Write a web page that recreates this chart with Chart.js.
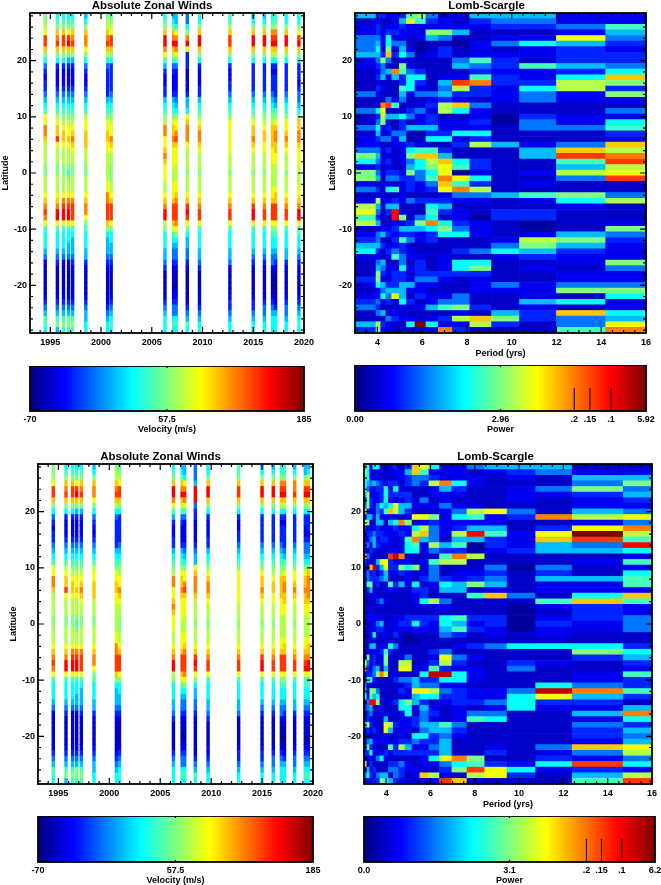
<!DOCTYPE html>
<html>
<head>
<meta charset="utf-8">
<title>Zonal winds and Lomb-Scargle</title>
<script src="https://cdn.jsdelivr.net/npm/chart.js@4/dist/chart.umd.min.js"></script>
<style>
html, body { margin: 0; padding: 0; background: #fff; overflow: hidden; }
body { position: relative; width: 661px; height: 885px; }
canvas { position: absolute; }
</style>
</head>
<body>
<script>
// colour levels, one character per cell (0-g), as a fraction of the colour bar
const levelFractions = [.03, .07, .11, .16, .24, .31, .38, .44, .5, .55, .61, .68, .75, .82, .88, .94, 1];

const latitudes = [28,27,26,25,24,23,22,21,20,19,18,17,16,15,14,13,12,11,10,9,8,7,6,5,4,3,2,1,0,
    -1,-2,-3,-4,-5,-6,-7,-8,-9,-10,-11,-12,-13,-14,-15,-16,-17,-18,-19,-20,-21,-22,-23,-24,-25,-26,-27,-28];

const latTicks = [-20, -10, 0, 10, 20];
const yearTicks = [1995, 2000, 2005, 2010, 2015, 2020];
const periodTicks = [4, 6, 8, 10, 12, 14, 16];

// upper panels
const yearsTop = [1994.5, 1995.7, 1996.3, 1996.8, 1997.2, 1998.5, 2000.65, 2001.0, 2006.3, 2007.15, 2007.4,
    2008.5, 2009.7, 2012.7, 2015.0, 2016.1, 2016.9, 2017.2, 2018.25, 2019.5];

// one string per observation date, latitude 28 down to -28
const windsTop = [
    '889addb864 3233456 7aa ccb999988 999abcdca7 6665421111 12345776',
    '678bcdb863 222345679a bbda99988 999abceea7 6665431111 12345785',
    '678bddb863 2223456789 abba99988 999acdeea7 6665421111 12345787',
    '678adeb853 2223456789 aaba99987 899acdeea7 6655421111 12345887',
    '678bcdb853 2223456789 abcba9988 999acddda7 6555432111 12345787',
    '568bcca864 322345679a abbb99988 999abcca87 6665532111 12345566',
    '899bcdb964 333335678a abbaa9999 9aaccdddb8 6555432110 11234566',
    '789addb863 3333456789 aacba9988 899abddda8 6655432111 12345676',
    '678beeca75 3223356789 ccaabcbaa a99abcee98 6665543111 11345666',
    '568bceb974 322235678a bbcbaaaa9 9aaabdddba 7654432110 12344676',
    '556aceca74 222234568a acdbaaa99 9aabcdddca 8654432110 12344676',
    '4468cea333 11223556ab ccca99998 999abdeda8 6554432111 11234576',
    '668beeb863 222335678a bccba9998 999abcdda7 6665543111 12234566',
    '778bddb863 223345678a aaaaa9998 999abcdda7 6665542111 12334566',
    '568beeb863 333345678a bbcba9998 999abdeea7 6665432111 12334566',
    '568beeb863 3333456789 abbaa9998 999abcdda7 6665432111 12344566',
    '678cdeb963 2333456789 bbbbaaa99 99aabddda8 7665442100 12345666',
    '778cdeb963 233334578a bccbbaa99 99abbddda8 7665432100 01235666',
    '668beeb863 333345678a abcba9998 999abcdda7 6665532111 12344566',
    '668adeb863 332344568b bccbaaa99 99aabceea7 7665432111 12345676'
];

// lower left panel
const yearsBottom = [1994.5, 1995.75, 1996.4, 1996.8, 1997.25, 1998.5, 2000.7, 2001.0, 2006.3, 2007.15, 2007.4,
    2008.45, 2009.7, 2012.7, 2015.0, 2016.1, 2016.9, 2017.2, 2018.2, 2019.25, 2019.55];

const windsBottom = [
    '889addb864 3233456 7aa ccb999988 999abcdca7 6665421111 12345776',
    '678bcdb863 222345679a bbda99988 999abceea7 6665431111 12345785',
    '678bddb863 2223456789 abba99988 999acdeea7 6665421111 12345787',
    '678adeb853 2223456789 aaba99987 899acdeea7 6655421111 12345887',
    '678bcdb853 2223456789 abcba9988 999acddda7 6555432111 12345787',
    '568bcca864 322345679a abbb99988 999abcca87 6665532111 12345566',
    '899bcdb964 333335678a abbaa9999 9aaccdddb8 6555432110 11234566',
    '789addb863 3333456789 aacba9988 899abddda8 6655432111 12345676',
    '678beeca75 3223356789 ccaabcbaa a99abcee98 6665543111 11345666',
    '568bceb974 322235678a bbcbaaaa9 9aaabdddba 7654432110 12344676',
    '556aceca74 222234568a acdbaaa99 9aabcdddca 8654432110 12344676',
    '4445eee433 212234 55ab cccb99998 999abdeda8 6554432111 11234576',
    '668beeb863 222335678a bccba9998 999abcdda7 6665543111 12234566',
    '778bddb863 223345678a aaaaa9998 999abcdda7 6665542111 12334566',
    '568beeb863 333345678a bbcba9998 999abdeea7 6665432111 12334566',
    '568beeb863 3333456789 abbaa9998 999abcdda7 6665432111 12344566',
    '678cdeb963 2333456789 bbbbaaa99 99aabddda8 7665442100 12345666',
    '778cdeb963 233334578a bccbbaa99 99abbddda8 7665432100 01235666',
    '568ccdb863 333345678a abcba9998 999abcdda7 6665532111 12344566',
    '558bdeb863 322344568a bbcbbaa99 99aabcdea7 7665432111 12345676',
    '569bdeb963 332344569b ccccbaa99 99abbceea7 7665432111 12345676'
];

const periodEdgesTop = [3, 3.94, 4.15, 4.38, 4.64, 4.98, 5.3, 5.68, 6.17, 6.72, 7.35, 8.13, 9.1, 10.35, 12, 14.2, 16];

// one string per latitude (28 down to -28), one character per period bin
const powerTop = [
    '5332237841255522', '121125a732134422', '2312232222223347', '2323322288511125',
    '44262212541122a4', '4526441011024653', '4618252013121232', '553b364123122233',
    '2484121111473133', '2341182111543754', '1245c74311132236', '135253661227326b',
    '1211136315dc3398', '1321176214932693', '4211152445332428', '1114241123212422',
    '11cd711239b41111', '46a2113429621114', '1395564231120322', '1482131232230426',
    '4623135552221447', '1512441033661113', '2344250166231112', '221122321139524b',
    '44231267731115b9', '8512128bb51115dc', '642312469b63117d', '231211568a731159',
    '841332846a02129a',
    '851443347ca6114d', '212212324b731211', '431672323ac91111', '1211121112445784',
    '2922324333221269', '9515511165111121', 'a413e21173213311', '7311e81461203311',
    '95112238c6321012', '1122355568421018', '2453233236621254', '3411374231112983',
    '5532231111114852', '6313432111346532', '2212742212112322', '1451141312661128',
    '1542262312681214', '1832331333331122', '3821332442121122', '2653355221124244',
    '1245552211122288', '2264a51322411216', '3423263124411562', '4311121257831212',
    '14512111112153b6', '11143221239b8345', '5932116g6229314a', '382211122c31117c'
];

const periodEdgesBottom = [3, 3.13, 3.26, 3.4, 3.55, 3.72, 3.9, 4.1, 4.32, 4.57, 4.85, 5.17, 5.52, 5.93, 6.41, 6.97,
    7.65, 8.45, 9.46, 10.75, 12.4, 14.7, 16];

const powerBottom = [
    '5726612231 3ba6224555 11', '8611211122 5b72221234 22', '7622211122 3443222121 55', '6545432331 3439c62111 48',
    '7422336262 1112531124 84', '5922236333 3112221122 35', '3832236222 3141211121 23', '48324656a5 5222422111 22',
    'b321437b95 3111249a41 54', '2552522211 2aa826723c 9a', 'a82155156c 8123222211 24', '3122322232 2694235513 ac',
    '1334332223 29b429e72a g9', '1245233212 7c5415532b d7', '3425322212 6729570325 4e', '2132121221 6624330235 56',
    'c421111dfc 11117c9111 12', '31125aa322 2127991111 27', '12bf35a338 6814111404 12', '2423135223 2124122313 16',
    '1433345111 2134323415 57', '2782311735 2612658512 27', '1351112221 1331551212 22', '2112211111 1231117b41 6b',
    '1111342111 1269411117 b7', '1111121111 1112211102 32', '1121111111 1111111101 32', '1222221122 3333673302 34',
    '1222451223 3632652303 24',
    '1122332122 2222573202 24', '1126122131 0111431212 11', '1112111111 0011111111 11', '1255122641 1111123466 63',
    '1212237311 1113411111 86', '2823128212 4112a42111 35', '9413128119 9113931132 13', 'c32451511a a227322141 12',
    '13348c9121 116ff62111 27', '1762111134 4533662111 23', '4121111112 3544221116 43', '5188411113 2aa943224f c7',
    '6275611112 256633226a 53', '14ee821236 8531233463 31', '3451121116 6252121262 25', '1341221212 6143124411 5c',
    '1321115112 2342127611 26', '593211a932 2355741111 43', '231311a522 2145531111 35', '1211212112 1663421111 34',
    '1452222223 3433511111 25', '2732111739 5224511214 ba', '3362223233 3333511312 49', '2121462111 1126ac8113 24',
    'b131111334 2122467326 d6', '1513111443 221138da62 32', '4632455143 12b9219a31 59', '1223386532 2112db1111 7d'
];

// colour bars: end and middle labels, significance levels drawn as lines
const velocityRange = [-70, 57.5, 185];
const powerRangeTop = [0, 2.96, 5.92];
const powerRangeBottom = [0, 3.1, 6.2];
const sigLabels = ['.2', '.15', '.1'];
const sigPowerTop = [4.46, 4.78, 5.21];
const sigPowerBottom = [4.74, 5.06, 5.49];

const jetStops = [[0, [0, 0, 128]], [.125, [0, 0, 255]], [.375, [0, 255, 255]], [.625, [255, 255, 0]], [.875, [255, 0, 0]], [1, [128, 0, 0]]];

function jet(f) {
    for (let i = 1; i < jetStops.length; i++) {
        if (f <= jetStops[i][0]) {
            const [f0, c0] = jetStops[i - 1];
            const [f1, c1] = jetStops[i];
            const t = (f - f0) / (f1 - f0);
            return `rgb(${c0.map((c, k) => Math.round(c + (c1[k] - c) * t)).join(',')})`;
        }
    }
    return 'rgb(128,0,0)';
}

function decode(text) {
    return text.replace(/\s/g, '').split('').map(ch => levelFractions[parseInt(ch, 17)]);
}

Chart.defaults.font.family = '"Liberation Sans", Arial, sans-serif';
Chart.defaults.font.weight = 'bold';
Chart.defaults.font.size = 9;
Chart.defaults.color = '#000';
Chart.defaults.animation = false;

function windCells(years, columns, range) {
    const cells = [];
    years.forEach((year, i) => {
        decode(columns[i]).forEach((f, j) => {
            cells.push({ x: [year - 0.135, year + 0.135], y: latitudes[j], v: range[0] + f * (range[2] - range[0]), f: f });
        });
    });
    return cells;
}

function powerCells(edges, rows, range) {
    const cells = [];
    rows.forEach((row, j) => {
        decode(row).forEach((f, i) => {
            cells.push({ x: [edges[i], edges[i + 1]], y: latitudes[j], v: f * range[2], f: f });
        });
    });
    return cells;
}

function addCanvas(left, top, width, height) {
    const canvas = document.createElement('canvas');
    canvas.width = width;
    canvas.height = height;
    canvas.style.left = left + 'px';
    canvas.style.top = top + 'px';
    canvas.style.width = width + 'px';
    canvas.style.height = height + 'px';
    document.body.appendChild(canvas);
    return canvas;
}

// IDL style frame, ticks point inwards on all four sides
function frameTicks(xMajor, xMinor) {
    return {
        id: 'frameTicks',
        afterDatasetsDraw(chart) {
            const { ctx, chartArea: a, scales: { x, y } } = chart;
            ctx.save();
            ctx.strokeStyle = '#000';
            ctx.lineWidth = 1.2;
            ctx.beginPath();
            const xTick = (v, len) => {
                const px = x.getPixelForValue(v);
                ctx.moveTo(px, a.bottom); ctx.lineTo(px, a.bottom - len);
                ctx.moveTo(px, a.top); ctx.lineTo(px, a.top + len);
            };
            const yTick = (v, len) => {
                const py = y.getPixelForValue(v);
                ctx.moveTo(a.left, py); ctx.lineTo(a.left + len, py);
                ctx.moveTo(a.right, py); ctx.lineTo(a.right - len, py);
            };
            xMinor.forEach(v => xTick(v, 3));
            xMajor.forEach(v => xTick(v, 6));
            for (let lat = -28; lat <= 28; lat += 2) yTick(lat, 3);
            latTicks.forEach(v => yTick(v, 6));
            ctx.stroke();
            ctx.lineWidth = 1.8;
            ctx.strokeRect(a.left, a.top, a.right - a.left, a.bottom - a.top);
            ctx.restore();
        }
    };
}

function heatPanel(p) {
    const titleH = 14;
    const yAxisW = p.area.left - p.canvasLeft;
    const width = p.area.right - p.canvasLeft + p.padRight;
    const height = titleH + (p.area.bottom - p.area.top) + p.xAxisH;
    const canvas = addCanvas(p.canvasLeft, p.area.top - titleH, width, height);
    new Chart(canvas, {
        type: 'bar',
        data: {
            datasets: [{
                data: p.cells,
                backgroundColor: p.cells.map(c => jet(c.f)),
                barThickness: (p.area.bottom - p.area.top) / 57,
                borderWidth: 0
            }]
        },
        options: {
            indexAxis: 'y',
            responsive: false,
            devicePixelRatio: 1,
            events: [],
            layout: { autoPadding: false, padding: { left: 0, top: 0, right: p.padRight, bottom: 0 } },
            plugins: {
                legend: { display: false },
                tooltip: { enabled: false },
                title: {
                    display: true,
                    text: p.title,
                    font: { size: 11.5, weight: 'bold', lineHeight: 12 / 11.5 },
                    padding: { top: 1, bottom: 1 },
                    color: '#000'
                }
            },
            scales: {
                x: {
                    type: 'linear',
                    min: p.xMin,
                    max: p.xMax,
                    beginAtZero: false,
                    grid: { display: false, drawTicks: false },
                    border: { display: false },
                    afterFit: s => { s.height = p.xAxisH; },
                    afterBuildTicks: s => { s.ticks = p.xTicks.map(v => ({ value: v })); },
                    ticks: { padding: 4, autoSkip: false, maxRotation: 0, minRotation: 0, callback: v => String(v) },
                    title: { display: !!p.xTitle, text: p.xTitle, padding: 0, font: { size: 9, weight: 'bold' } }
                },
                y: {
                    type: 'linear',
                    min: -28.5,
                    max: 28.5,
                    offset: false,
                    grid: { display: false, drawTicks: false, offset: false },
                    border: { display: false },
                    afterFit: s => { s.width = yAxisW; },
                    afterBuildTicks: s => { s.ticks = latTicks.map(v => ({ value: v })); },
                    ticks: { padding: 3, autoSkip: false, callback: v => String(v) },
                    title: { display: true, text: 'Latitude', padding: 0, font: { size: 9, weight: 'bold' } }
                }
            }
        },
        plugins: [frameTicks(p.xTicks, p.xMinor)]
    });
}

function colorBar(p) {
    const barH = p.area.bottom - p.area.top;
    const xAxisH = 24;
    const padLeft = 18;
    const canvas = addCanvas(p.area.left - padLeft, p.area.top, p.area.right - p.area.left + padLeft + p.padRight, barH + xAxisH);
    const ticks = p.range.slice();
    const labels = p.text.slice();
    p.sig.forEach((v, i) => { ticks.push(v); labels.push(sigLabels[i]); });
    new Chart(canvas, {
        type: 'bar',
        data: {
            labels: [p.title],
            datasets: [{
                data: [[p.range[0], p.range[2]]],
                barPercentage: 1,
                categoryPercentage: 1,
                borderWidth: 0,
                backgroundColor: ctx => {
                    const a = ctx.chart.chartArea;
                    if (!a) return '#000';
                    const g = ctx.chart.ctx.createLinearGradient(a.left, 0, a.right, 0);
                    for (let i = 0; i <= 64; i++) g.addColorStop(i / 64, jet(i / 64));
                    return g;
                }
            }]
        },
        options: {
            indexAxis: 'y',
            responsive: false,
            devicePixelRatio: 1,
            events: [],
            layout: { autoPadding: false, padding: { left: padLeft, top: 0, right: p.padRight, bottom: 0 } },
            plugins: { legend: { display: false }, tooltip: { enabled: false } },
            scales: {
                x: {
                    type: 'linear',
                    min: p.range[0],
                    max: p.range[2],
                    beginAtZero: false,
                    grid: { display: false, drawTicks: false },
                    border: { display: false },
                    afterFit: s => { s.height = xAxisH; },
                    afterBuildTicks: s => { s.ticks = ticks.map(v => ({ value: v })); },
                    ticks: {
                        padding: 3,
                        autoSkip: false,
                        maxRotation: 0,
                        minRotation: 0,
                        callback: v => labels[ticks.indexOf(v)]
                    },
                    title: { display: true, text: p.title, padding: 0, font: { size: 9, weight: 'bold' } }
                },
                y: { display: false, grid: { display: false } }
            }
        },
        plugins: [{
            id: 'barFrame',
            afterDatasetsDraw(chart) {
                const { ctx, chartArea: a, scales: { x } } = chart;
                ctx.save();
                ctx.strokeStyle = '#000';
                ctx.lineWidth = 1.2;
                ctx.beginPath();
                const mid = x.getPixelForValue(p.range[1]);
                ctx.moveTo(mid, a.top); ctx.lineTo(mid, a.top + 2);
                ctx.moveTo(mid, a.bottom); ctx.lineTo(mid, a.bottom - 2);
                ctx.stroke();
                ctx.lineWidth = 1;
                ctx.beginPath();
                p.sig.forEach(v => {
                    const px = x.getPixelForValue(v);
                    ctx.moveTo(px, a.top + barH / 2);
                    ctx.lineTo(px, a.bottom);
                });
                ctx.stroke();
                ctx.lineWidth = 1.8;
                ctx.strokeRect(a.left, a.top, a.right - a.left, a.bottom - a.top);
                ctx.restore();
            }
        }]
    });
}

const yearMinor = Array.from({ length: 28 }, (_, i) => 1993 + i);
const periodMinor = Array.from({ length: 27 }, (_, i) => 3 + i / 2);

heatPanel({
    canvasLeft: 0, area: { left: 30, top: 13, right: 304, bottom: 333 }, padRight: 14, xAxisH: 26,
    title: 'Absolute Zonal Winds', xMin: 1993, xMax: 2020, xTicks: yearTicks, xMinor: yearMinor, xTitle: '',
    cells: windCells(yearsTop, windsTop, velocityRange)
});
heatPanel({
    canvasLeft: 327, area: { left: 355, top: 13, right: 646, bottom: 333 }, padRight: 15, xAxisH: 26,
    title: 'Lomb-Scargle', xMin: 3, xMax: 16, xTicks: periodTicks, xMinor: periodMinor, xTitle: 'Period (yrs)',
    cells: powerCells(periodEdgesTop, powerTop, powerRangeTop)
});
heatPanel({
    canvasLeft: 8, area: { left: 38, top: 464, right: 313, bottom: 784 }, padRight: 14, xAxisH: 26,
    title: 'Absolute Zonal Winds', xMin: 1993, xMax: 2020, xTicks: yearTicks, xMinor: yearMinor, xTitle: '',
    cells: windCells(yearsBottom, windsBottom, velocityRange)
});
heatPanel({
    canvasLeft: 336, area: { left: 364, top: 464, right: 655, bottom: 784 }, padRight: 6, xAxisH: 26,
    title: 'Lomb-Scargle', xMin: 3, xMax: 16, xTicks: periodTicks, xMinor: periodMinor, xTitle: 'Period (yrs)',
    cells: powerCells(periodEdgesBottom, powerBottom, powerRangeBottom)
});

colorBar({
    area: { left: 30, top: 366, right: 304, bottom: 411 }, padRight: 14, title: 'Velocity (m/s)',
    range: velocityRange, text: ['-70', '57.5', '185'], sig: []
});
colorBar({
    area: { left: 355, top: 365, right: 646, bottom: 411 }, padRight: 15, title: 'Power',
    range: powerRangeTop, text: ['0.00', '2.96', '5.92'], sig: sigPowerTop
});
colorBar({
    area: { left: 38, top: 816, right: 313, bottom: 862 }, padRight: 14, title: 'Velocity (m/s)',
    range: velocityRange, text: ['-70', '57.5', '185'], sig: []
});
colorBar({
    area: { left: 364, top: 816, right: 655, bottom: 862 }, padRight: 6, title: 'Power',
    range: powerRangeBottom, text: ['0.0', '3.1', '6.2'], sig: sigPowerBottom
});
</script>
</body>
</html>
